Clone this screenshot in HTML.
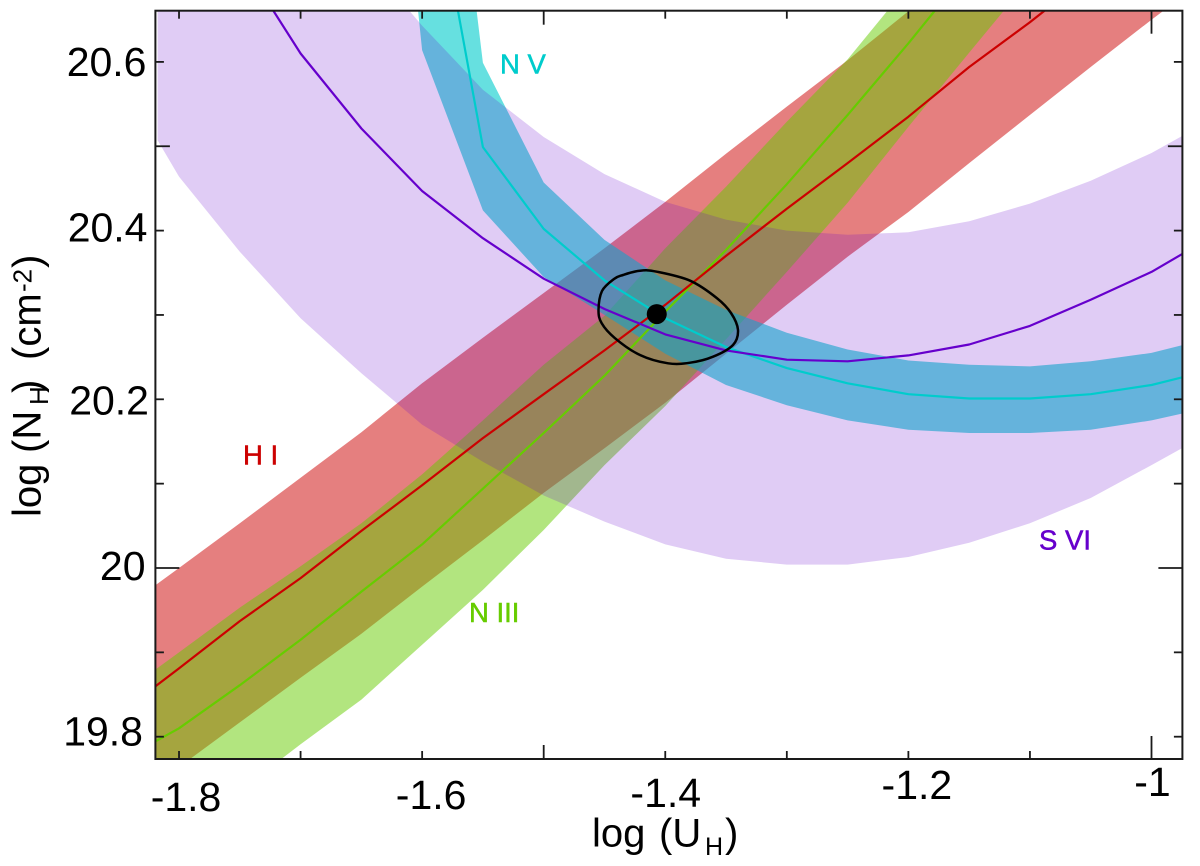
<!DOCTYPE html>
<html lang="en">
<head>
<meta charset="utf-8">
<title>log (NH) vs log (UH) ionization constraints</title>
<style>
  html, body { margin: 0; padding: 0; background: #fff; }
  svg { display: block; font-family: "Liberation Sans", Arial, sans-serif; }
</style>
</head>
<body>
<svg id="chart" xmlns="http://www.w3.org/2000/svg" width="1200" height="866" viewBox="0 0 1200 866">
  <rect x="0" y="0" width="1200" height="866" fill="#fff"/>
  <defs>
    <clipPath id="plot-clip"><rect x="155.4" y="10.7" width="1027" height="748.3"/></clipPath>
  </defs>
  <g id="bands" clip-path="url(#plot-clip)"></g>
  <g id="lines" clip-path="url(#plot-clip)"></g>
  <g id="ticks"></g>
  <rect x="155.4" y="10.7" width="1027" height="748.3" fill="none" stroke="#1a1a1a" stroke-width="2"/>
  <g id="tick-labels" font-size="41" fill="#000"></g>

  <text y="846.5" font-size="40" fill="#000"><tspan x="592">log</tspan><tspan x="659">(U</tspan><tspan x="705" y="855" font-size="25">H</tspan><tspan x="725" y="846.5">)</tspan></text>
  <text transform="translate(40.7,517) rotate(-90)" font-size="40" fill="#000"><tspan x="0" y="0">log</tspan><tspan x="64">(N</tspan><tspan x="112" y="7.5" font-size="26">H</tspan><tspan x="124" y="0">)</tspan><tspan x="157">(cm</tspan><tspan x="225" y="-9" font-size="26">-2</tspan><tspan x="249" y="0">)</tspan></text>

  <text x="500" y="73.3" font-size="27.5" fill="#00cccc" stroke="#00cccc" stroke-width="0.5">N V</text>
  <text x="243" y="464.7" font-size="27.5" fill="#cc0000" stroke="#cc0000" stroke-width="0.5">H I</text>
  <text x="469" y="622" font-size="27.5" fill="#66cc00" stroke="#66cc00" stroke-width="0.5">N III</text>
  <text x="1039" y="549.7" font-size="27.5" fill="#6600cc" stroke="#6600cc" stroke-width="0.5">S VI</text>
</svg>

<script>
// ---- data ----
const logU = [-1.82,-1.8176,-1.8,-1.75,-1.7,-1.65,-1.6,-1.55,-1.5,-1.45,-1.4,-1.35,-1.3,-1.25,-1.2,-1.15,-1.1,-1.05,-1,-0.975];

const hiLine  = [19.859,null,19.881,19.937,19.988,20.044,20.098,20.154,20.206,20.258,20.312,20.370,20.426,20.480,20.535,20.594,20.647,20.704,20.768,20.798];
const hiUpper = [19.979,null,20.000,20.053,20.107,20.161,20.219,20.273,20.326,20.379,20.434,20.491,20.547,20.602,20.660,20.721,20.780,20.839,20.899,20.928];
const hiLower = [19.743,null,19.764,19.817,19.870,19.922,19.978,20.033,20.089,20.142,20.196,20.254,20.312,20.369,20.422,20.480,20.537,20.594,20.650,20.677];

const niiiLine  = [19.794,null,19.810,19.861,19.915,19.972,20.028,20.094,20.160,20.228,20.304,20.377,20.455,20.537,20.622,20.711,20.804,null,null,null];
const niiiUpper = [19.879,null,19.900,19.953,20.002,20.053,20.111,20.175,20.241,20.299,20.379,20.452,20.529,20.603,20.691,20.780,20.875,null,null,null];
const niiiLower = [19.660,null,19.680,19.736,19.791,19.844,19.909,19.974,20.045,20.122,20.192,20.271,20.351,20.433,20.523,20.611,20.698,20.792,null,null];

const nvLine  = [null,null,null,null,null,null,20.893,20.499,20.402,20.341,20.296,20.262,20.237,20.219,20.206,20.201,20.201,20.206,20.217,20.226];
const nvUpper = [null,null,null,null,null,null,21.195,20.599,20.457,20.389,20.341,20.306,20.279,20.259,20.246,20.241,20.239,20.245,20.255,20.264];
const nvLower = [null,null,null,null,null,21.314,20.614,20.424,20.345,20.300,20.254,20.217,20.193,20.175,20.164,20.160,20.160,20.164,20.175,20.183];

const sviLine  = [null,null,null,20.723,20.610,20.521,20.447,20.391,20.343,20.307,20.277,20.258,20.247,20.245,20.252,20.265,20.287,20.318,20.351,20.372];
const sviUpper = [null,21.0,20.99,20.95,20.85,20.727,20.643,20.567,20.511,20.467,20.434,20.413,20.400,20.395,20.398,20.411,20.432,20.459,20.492,20.512];
const sviLower = [null,20.507,20.464,20.375,20.296,20.231,20.170,20.126,20.086,20.055,20.028,20.011,20.004,20.004,20.013,20.030,20.053,20.083,20.122,20.142];

const contourU = [-1.4348,-1.4208,-1.4070,-1.3796,-1.3577,-1.3459,-1.3402,-1.3443,-1.3607,-1.3796,-1.3977,-1.4208,-1.4413,-1.4523,-1.4549,-1.4520,-1.4422];
const contourN = [20.3474,20.3525,20.3513,20.3406,20.3201,20.3023,20.2821,20.2644,20.2505,20.2434,20.2427,20.2525,20.2723,20.2901,20.3059,20.3284,20.3426];

const bestU = [-1.407];
const bestN = [20.301];

const xTickValues = [-1.8,-1.7,-1.6,-1.5,-1.4,-1.3,-1.2,-1.1,-1];
const yTickValues = [20.6,20.5,20.4,20.3,20.2,20.1,20,19.9,19.8];
const xTickLabels = ["-1.8","-1.6","-1.4","-1.2","-1"];
const xLabelValues = [-1.8,-1.6,-1.4,-1.2,-1];
const yTickLabels = ["20.6","20.4","20.2","20","19.8"];
const yLabelValues = [20.6,20.4,20.2,20,19.8];

// ---- axis functions ----
function xScale(u) { return 1151.5 + (u + 1) * 1215.6; }
function yScale(n) { return 568 - (n - 20) * 843.5; }

const NS = "http://www.w3.org/2000/svg";
function make(tag, attrs, parent) {
  const el = document.createElementNS(NS, tag);
  for (const k in attrs) el.setAttribute(k, attrs[k]);
  parent.appendChild(el);
  return el;
}
function points(us, ns) {
  const out = [];
  for (let i = 0; i < us.length; i++) {
    if (ns[i] !== null) out.push([xScale(us[i]), yScale(ns[i])]);
  }
  return out;
}
function ptsToString(p) {
  return p.map(function (q) { return q[0].toFixed(1) + "," + q[1].toFixed(1); }).join(" ");
}
function band(upper, lower, fill, opacity) {
  const p = points(logU, upper).concat(points(logU, lower).reverse());
  return make("polygon", { points: ptsToString(p), fill: fill, "fill-opacity": opacity }, bandsG);
}
function line(values, color) {
  return make("polyline", { points: ptsToString(points(logU, values)), fill: "none", stroke: color, "stroke-width": 2.2, "stroke-linejoin": "round" }, linesG);
}
function closedSmoothPath(p) {
  const n = p.length;
  let d = "M" + p[0][0].toFixed(1) + " " + p[0][1].toFixed(1);
  for (let i = 0; i < n; i++) {
    const a = p[(i - 1 + n) % n], b = p[i], c = p[(i + 1) % n], e = p[(i + 2) % n];
    const c1x = b[0] + (c[0] - a[0]) / 6, c1y = b[1] + (c[1] - a[1]) / 6;
    const c2x = c[0] - (e[0] - b[0]) / 6, c2y = c[1] - (e[1] - b[1]) / 6;
    d += "C" + c1x.toFixed(1) + " " + c1y.toFixed(1) + " " + c2x.toFixed(1) + " " + c2y.toFixed(1) + " " + c[0].toFixed(1) + " " + c[1].toFixed(1);
  }
  return d + "Z";
}

const bandsG = document.getElementById("bands");
const linesG = document.getElementById("lines");
const ticksG = document.getElementById("ticks");
const labelsG = document.getElementById("tick-labels");

// ---- bands (bottom to top) ----
const hiBand = band(hiUpper, hiLower, "#cc0000", 0.5);


const niiiBand = band(niiiUpper, niiiLower, "#66cc00", 0.5);


const nvBand = band(nvUpper, nvLower, "#00cccc", 0.6);


const sviBand = band(sviUpper, sviLower, "#6600cc", 0.2);



// ---- central lines ----
const nvCurve = line(nvLine, "#00cccc");


const niiiCurve = line(niiiLine, "#66cc00");


const hiCurve = line(hiLine, "#cc0000");


const sviCurve = line(sviLine, "#6600cc");



// ---- confidence contour and best-fit point ----
const contour = make("path", { d: closedSmoothPath(points(contourU, contourN)), fill: "none", stroke: "#000", "stroke-width": 2.5 }, linesG);


const bestPoint = make("circle", { cx: xScale(bestU[0]), cy: yScale(bestN[0]), r: 10, fill: "#000" }, linesG);



// ---- ticks ----
function xTickLen(v) { return v === -1 ? 23 : (v === -1.5 ? 14 : 8); }
function yTickLen(v) { return v === 20 ? 24 : (v === 20.5 ? 14.5 : 8.5); }
const TOP = 10.7, BOTTOM = 759, LEFT = 155.4, RIGHT = 1182.4;
xTickValues.forEach(function (v) {
  const x = xScale(v), len = xTickLen(v);
  const t1 = make("line", { x1: x, x2: x, y1: BOTTOM, y2: BOTTOM - len, stroke: "#1a1a1a", "stroke-width": 1.8 }, ticksG);
  
  
  const t2 = make("line", { x1: x, x2: x, y1: TOP, y2: TOP + len, stroke: "#1a1a1a", "stroke-width": 1.8 }, ticksG);
  
  
});
yTickValues.forEach(function (v) {
  const y = yScale(v), len = yTickLen(v);
  const t1 = make("line", { x1: LEFT, x2: LEFT + len, y1: y, y2: y, stroke: "#1a1a1a", "stroke-width": 1.8 }, ticksG);
  
  
  const t2 = make("line", { x1: RIGHT, x2: RIGHT - len, y1: y, y2: y, stroke: "#1a1a1a", "stroke-width": 1.8 }, ticksG);
  
  
});

// ---- tick labels (the reference's labels wander slightly off their ticks) ----
const xLabelDx = [7, 9, 0.5, 8.5, 1];
const xLabelBase = [811, 809, 807, 799, 796];
const yLabelEnd = [146.5, 147.5, 149, 145.5, 143];
const yLabelDy = [14, 11, 15, 12, 9];
xTickLabels.forEach(function (s, i) {
  const t = make("text", { x: xScale(xLabelValues[i]) + xLabelDx[i], y: xLabelBase[i], "text-anchor": "middle" }, labelsG);
  t.textContent = s;
  
  
});
yTickLabels.forEach(function (s, i) {
  const t = make("text", { x: yLabelEnd[i], y: yScale(yLabelValues[i]) + yLabelDy[i], "text-anchor": "end" }, labelsG);
  t.textContent = s;
  
  
});
</script>
</body>
</html>
